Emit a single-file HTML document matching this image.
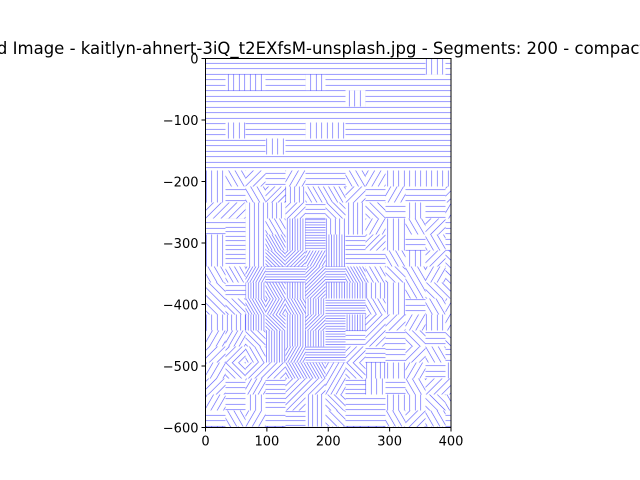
<!DOCTYPE html>
<html><head><meta charset="utf-8">
<style>
html,body{margin:0;padding:0;background:#fff;}
svg{display:block;font-family:"DejaVu Sans","Liberation Sans",sans-serif;}
</style></head>
<body>
<svg id="chart" width="640" height="480" viewBox="0 0 640 480">
<defs id="defs"></defs>
<g id="texture"></g>
<rect x="205.5" y="58.5" width="245.5" height="369" fill="none" stroke="#000" stroke-width="1"/>
<g id="axes"></g>
<text x="314" y="64" dy="-10" text-anchor="middle" font-size="16.5" fill="#000">Segmented Image - kaitlyn-ahnert-3iQ_t2EXfsM-unsplash.jpg - Segments: 200 - compactness: 10</text>
</svg>
<script>
const xTicks=[0,100,200,300,400];
const yTicks=[0,-100,-200,-300,-400,-500,-600];
const X0=205.5,X1=451,Y0=58.5,Y1=427.5;
const xs=v=>X0+(v/400)*(X1-X0);
const ys=v=>Y0+(-v/600)*(Y1-Y0);
const NS="http://www.w3.org/2000/svg";
const axes=document.getElementById('axes');
function mk(t,a,p){const e=document.createElementNS(NS,t);for(const k in a)e.setAttribute(k,a[k]);(p||axes).appendChild(e);return e;}
xTicks.forEach(v=>{
  const l=mk('line',{x1:xs(v),x2:xs(v),y1:Y1,y2:Y1+4,stroke:'#000'});
  
  
  const t=mk('text',{x:xs(v),y:Y1+18,'text-anchor':'middle','font-size':'13'});
  t.textContent=v;
  
  
});
yTicks.forEach(v=>{
  const l=mk('line',{x1:X0-4,x2:X0,y1:ys(v),y2:ys(v),stroke:'#000'});
  
  
  const t=mk('text',{x:X0-7,y:ys(v)+5,'text-anchor':'end','font-size':'13'});
  t.textContent=v===0?'0':'\u2212'+(-v);
  
  
});
const defs=document.getElementById('defs'),tex=document.getElementById('texture');
const cw=20,ch=16;let id=0;
for(let y=Y0;y<Y1;y+=ch){for(let x=X0;x<X1;x+=cw){
  const cx=x+cw/2,cy=y+ch/2;
  const d=Math.hypot((cx-305)/55,(cy-300)/75);
  let ang, sp;
  const h=Math.abs(Math.sin(x*12.9898+y*78.233)*43758.5453)%1;
  if(cy<170){ang=(h<0.12)?90:0;sp=5.5;}
  else{ang=[0,90,45,135,0,90,60,120][Math.floor(h*8)];sp=d<1?2.6:(d<1.6?4.5:5.5);}
  const p=mk('pattern',{id:'p'+id,patternUnits:'userSpaceOnUse',width:sp,height:sp,patternTransform:'rotate('+ang+')'},defs);
  mk('line',{x1:0,y1:sp/2,x2:sp,y2:sp/2,stroke:'#3a3aff','stroke-width':0.6,'stroke-opacity':0.85},p);
  const r=mk('rect',{x:x,y:y,width:Math.min(cw,X1-x),height:Math.min(ch,Y1-y),fill:'url(#p'+id+')'},tex);
  
  
  id++;
}}
</script>
</body></html>
